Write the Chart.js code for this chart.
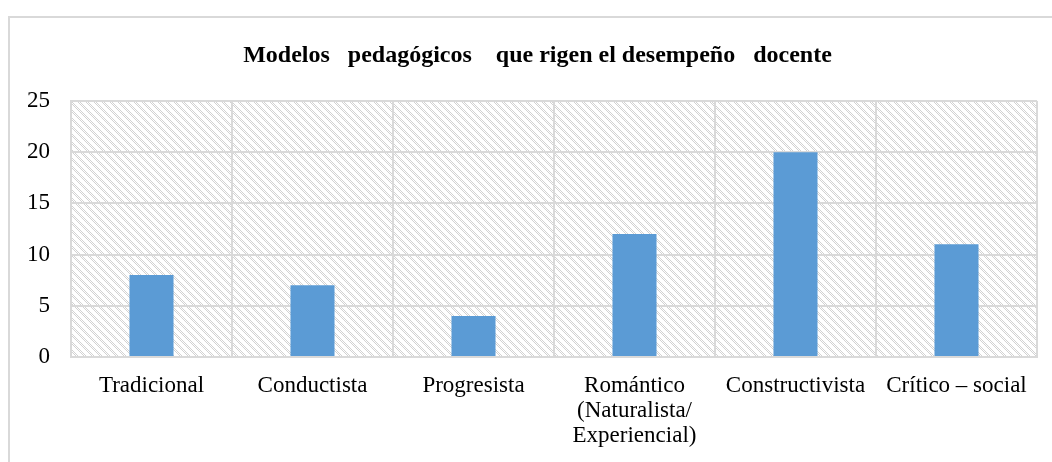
<!DOCTYPE html>
<html>
<head>
<meta charset="utf-8">
<script src="https://cdn.jsdelivr.net/npm/chart.js@4/dist/chart.umd.min.js"></script>
<style>
  html, body { margin: 0; padding: 0; background: #ffffff; }
  canvas { display: block; }
</style>
</head>
<body>
<canvas id="c" width="1052" height="462"></canvas>
<script>
const categories = [
  "Tradicional",
  "Conductista",
  "Progresista",
  ["Romántico", "(Naturalista/", "Experiencial)"],
  "Constructivista",
  "Crítico – social"
];
const values = [8, 7, 4, 12, 20, 11];
const yTicks = [0, 5, 10, 15, 20, 25];
const titleText = "Modelos   pedagógicos    que rigen el desempeño   docente";

const FONT = "'Liberation Serif', 'Times New Roman', serif";
const GRID = "#d9d9d9";

function makeHatch() {
  const t = document.createElement("canvas");
  t.width = 8; t.height = 8;
  const g = t.getContext("2d");
  g.fillStyle = "#ffffff";
  g.fillRect(0, 0, 8, 8);
  g.fillStyle = "#d2d2d2";
  for (let y = 0; y < 8; y++) {
    for (let x = 0; x < 8; x++) {
      const d = ((x - y) % 8 + 8) % 8;
      if (d <= 2 && (x + y) % 2 === 0) g.fillRect(x, y, 1, 1);
    }
  }
  return t;
}

const backdrop = {
  id: "backdrop",
  afterLayout(chart) {
    if (chart.titleBlock) {
      chart.titleBlock.left = 38;
      chart.titleBlock.right = 1037;
    }
  },
  beforeDraw(chart) {
    const ctx = chart.ctx;
    const a = chart.chartArea;
    ctx.save();
    ctx.fillStyle = ctx.createPattern(makeHatch(), "repeat");
    ctx.fillRect(a.left, a.top, a.right - a.left, a.bottom - a.top);
    ctx.strokeStyle = GRID;
    ctx.lineWidth = 2;
    ctx.beginPath();
    ctx.moveTo(9, chart.height + 5);
    ctx.lineTo(9, 17);
    ctx.lineTo(chart.width + 5, 17);
    ctx.stroke();
    ctx.restore();
  }
};

new Chart(document.getElementById("c"), {
  type: "bar",
  data: {
    labels: categories,
    datasets: [{
      data: values,
      backgroundColor: "#5b9bd5",
      borderWidth: 0,
      categoryPercentage: 1,
      barPercentage: 0.2735
    }]
  },
  options: {
    responsive: false,
    animation: false,
    layout: { padding: { left: 14, right: 15, top: 0, bottom: 0 } },
    plugins: {
      legend: { display: false },
      tooltip: { enabled: false },
      title: {
        display: true,
        text: titleText,
        color: "#000000",
        font: { family: FONT, size: 24, weight: "bold", lineHeight: 1.2 },
        padding: { top: 41, bottom: 31.2 }
      }
    },
    scales: {
      x: {
        grid: { color: GRID, lineWidth: 2, drawTicks: false, offset: true },
        border: { display: true, color: GRID, width: 2 },
        ticks: {
          color: "#000000",
          font: { family: FONT, size: 23, lineHeight: 1.1 },
          padding: 16,
          maxRotation: 0,
          autoSkip: false
        },
        afterFit(scale) { scale.height = 105; }
      },
      y: {
        min: 0,
        max: 25,
        afterBuildTicks(scale) { scale.ticks = yTicks.map(v => ({ value: v })); },
        grid: { color: GRID, lineWidth: 2, drawTicks: false },
        border: { display: true, color: GRID, width: 2 },
        ticks: {
          color: "#000000",
          font: { family: FONT, size: 23 },
          padding: 21
        },
        afterFit(scale) { scale.width = 57; }
      }
    }
  },
  plugins: [backdrop]
});
</script>
</body>
</html>
